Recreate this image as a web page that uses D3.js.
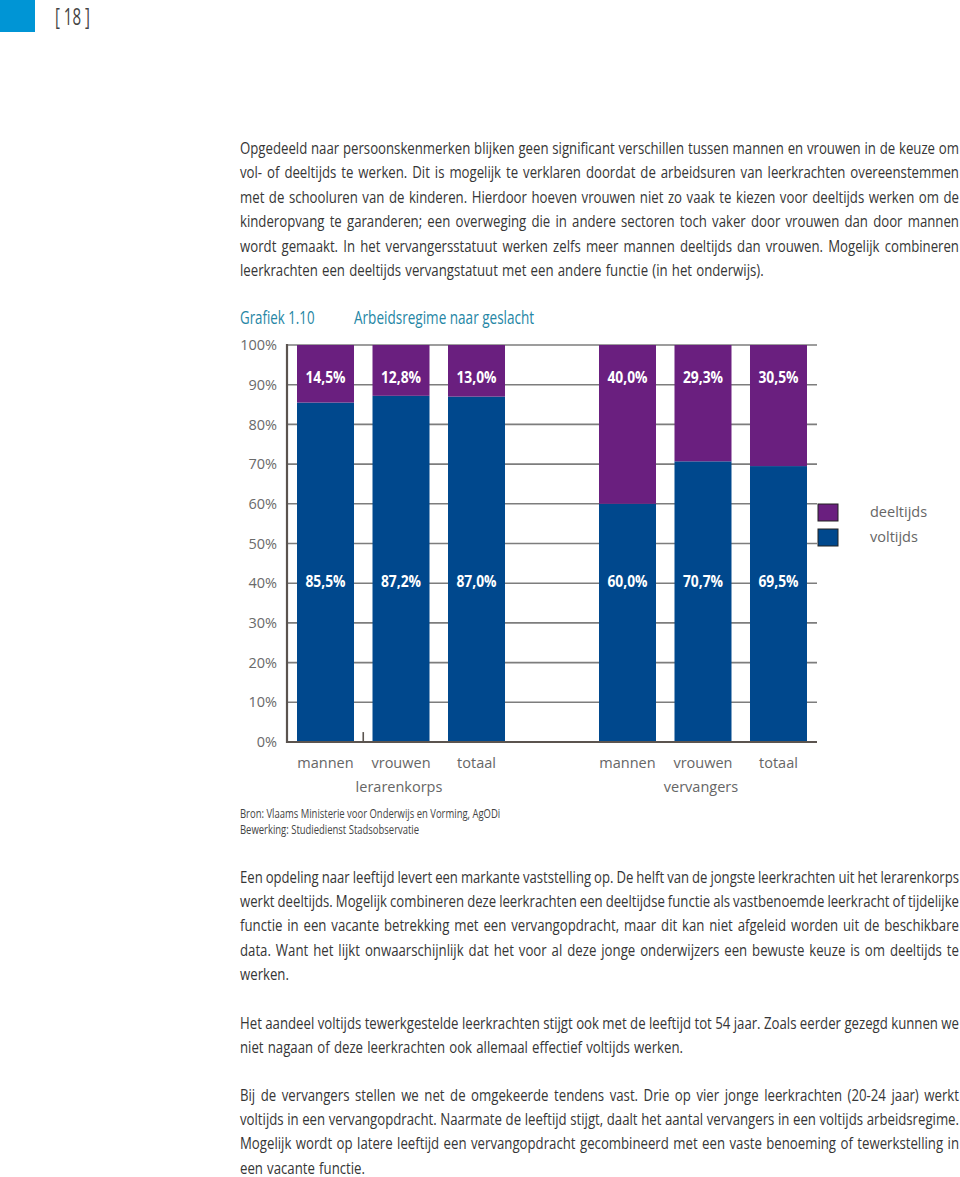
<!DOCTYPE html>
<html>
<head>
<meta charset="utf-8">
<script src="https://cdn.jsdelivr.net/npm/d3@7"></script>
<style>
  html, body { margin: 0; padding: 0; background: #fff; }
  svg { display: block; }
  .cond { font-family: "Open Sans", "Noto Sans", sans-serif; }
  .reg { font-family: "Open Sans", "Noto Sans", sans-serif; }
</style>
</head>
<body>
<svg id="page" width="960" height="1177"></svg>
<script>
// ---------------- data ----------------
const groups = ["lerarenkorps", "vervangers"];
const categories = ["mannen", "vrouwen", "totaal"];
const voltijds = [85.5, 87.2, 87.0, 60.0, 70.7, 69.5];
const deeltijds = [14.5, 12.8, 13.0, 40.0, 29.3, 30.5];
const yTicks = [0, 10, 20, 30, 40, 50, 60, 70, 80, 90, 100];
const seriesNames = ["deeltijds", "voltijds"];

const paragraph1 = [
  "Opgedeeld naar persoonskenmerken blijken geen significant verschillen tussen mannen en vrouwen in de keuze om",
  "vol- of deeltijds te werken. Dit is mogelijk te verklaren doordat de arbeidsuren van leerkrachten overeenstemmen",
  "met de schooluren van de kinderen. Hierdoor hoeven vrouwen niet zo vaak te kiezen voor deeltijds werken om de",
  "kinderopvang te garanderen; een overweging die in andere sectoren toch vaker door vrouwen dan door mannen",
  "wordt gemaakt. In het vervangersstatuut werken zelfs meer mannen deeltijds dan vrouwen. Mogelijk combineren",
  "leerkrachten een deeltijds vervangstatuut met een andere functie (in het onderwijs)."
];
const paragraph2 = [
  "Een opdeling naar leeftijd levert een markante vaststelling op. De helft van de jongste leerkrachten uit het lerarenkorps",
  "werkt deeltijds. Mogelijk combineren deze leerkrachten een deeltijdse functie als vastbenoemde leerkracht of tijdelijke",
  "functie in een vacante betrekking met een vervangopdracht, maar dit kan niet afgeleid worden uit de beschikbare",
  "data. Want het lijkt onwaarschijnlijk dat het voor al deze jonge onderwijzers een bewuste keuze is om deeltijds te",
  "werken."
];
const paragraph3 = [
  "Het aandeel voltijds tewerkgestelde leerkrachten stijgt ook met de leeftijd tot 54 jaar. Zoals eerder gezegd kunnen we",
  "niet nagaan of deze leerkrachten ook allemaal effectief voltijds werken."
];
const paragraph4 = [
  "Bij de vervangers stellen we net de omgekeerde tendens vast. Drie op vier jonge leerkrachten (20-24 jaar) werkt",
  "voltijds in een vervangopdracht. Naarmate de leeftijd stijgt, daalt het aantal vervangers in een voltijds arbeidsregime.",
  "Mogelijk wordt op latere leeftijd een vervangopdracht gecombineerd met een vaste benoeming of tewerkstelling in",
  "een vacante functie."
];

// ---------------- page ----------------
const svg = d3.select("#page");
const textColor = "#363636";
const purple = "#6a1f7f";
const blue = "#00488d";
const axisColor = "#5b544f";
const gridColor = "#7d7d7d";

// horizontally condensed text helper
function condText(parent, x, y, s, size, txt, opts = {}) {
  const t = parent.append("text").attr("class", "cond")
    .attr("transform", `translate(${x},${y}) scale(${s},1)`)
    .attr("font-size", size).attr("fill", opts.fill || textColor)
    .text(txt);
  if (opts.anchor) t.attr("text-anchor", opts.anchor);
  if (opts.weight) t.attr("font-weight", opts.weight);
  return t;
}

// header
svg.append("rect").attr("x", 0).attr("y", 0).attr("width", 35).attr("height", 32).attr("fill", "#0095d5");
condText(svg, 55, 25, 0.64, 23.5, "[ 18 ]", { fill: "#444" });

function justifiedBlock(lines, top, lineH, x0, width, size, baseS) {
  lines.forEach((line, i) => {
    const y = top + i * lineH;
    const last = i === lines.length - 1;
    const words = line.split(" ");
    const t = svg.append("text").attr("class", "cond")
      .attr("font-size", size).attr("fill", textColor);
    const spans = words.map(w => t.append("tspan").text(w));
    const widths = spans.map(s => s.node().getComputedTextLength());
    const total = d3.sum(widths);
    const minGap = 3;
    let s = baseS;
    if (total * s + minGap * (words.length - 1) > width) s = (width - minGap * (words.length - 1)) / total;
    let gap = 4.2;
    if (!last && words.length > 1) gap = (width - total * s) / (words.length - 1);
    t.attr("transform", `translate(${x0},${y}) scale(${s},1)`);
    let x = 0;
    spans.forEach((sp, k) => { sp.attr("x", x / s); x += widths[k] * s + gap; });
  });
}

const textX = 240, textW = 719, fs = 16.5;
justifiedBlock(paragraph1, 154, 24.4, textX, textW, fs, 0.8);
justifiedBlock(paragraph2, 883, 24.2, textX, textW, fs, 0.8);
justifiedBlock(paragraph3, 1029, 24.2, textX, textW, fs, 0.8);
justifiedBlock(paragraph4, 1101, 24.2, textX, textW, fs, 0.8);

// titles
const teal = "#2586a5";
condText(svg, 240, 324, 0.76, 17.5, "Grafiek 1.10", { fill: teal });
condText(svg, 354, 324, 0.775, 17.5, "Arbeidsregime naar geslacht", { fill: teal });

// ---------------- chart ----------------
const keys = [];
groups.forEach((g, gi) => {
  categories.forEach(c => keys.push(g + "|" + c));
  if (gi < groups.length - 1) keys.push("gap" + gi);
});
const bars = [];
groups.forEach((g, gi) => categories.forEach((c, ci) => {
  const i = gi * categories.length + ci;
  bars.push({ key: g + "|" + c, group: g, cat: c, voltijds: voltijds[i], deeltijds: deeltijds[i] });
}));

const x = d3.scaleBand().domain(keys).range([287, 817]).paddingInner(0.245).paddingOuter(0.1325);
const y = d3.scaleLinear().domain([0, 100]).range([742, 345]);

const chart = svg.append("g");

// gridlines
chart.append("g").selectAll("line").data(yTicks.filter(d => d > 0)).join("line")
  .attr("x1", 287).attr("x2", 817)
  .attr("y1", d => y(d)).attr("y2", d => y(d))
  .attr("stroke", gridColor).attr("stroke-width", 1.6);

// stacked bars
const stack = d3.stack().keys(["voltijds", "deeltijds"]);
const layers = stack(bars);
const colors = { voltijds: blue, deeltijds: purple };
chart.append("g").selectAll("g").data(layers).join("g")
  .attr("fill", d => colors[d.key])
  .selectAll("rect").data(d => d).join("rect")
  .attr("x", d => x(d.data.key))
  .attr("width", x.bandwidth())
  .attr("y", d => y(d[1]))
  .attr("height", d => y(d[0]) - y(d[1]));

// axes
const yAxis = d3.axisLeft(y).tickValues(yTicks).tickSize(0).tickPadding(10).tickFormat(d => d + "%");
const ya = chart.append("g").attr("transform", "translate(287,0)").call(yAxis);
ya.select(".domain").remove();
ya.selectAll("text").attr("class", "reg").attr("font-size", 14.5).attr("fill", "#6a6a6a");
chart.append("line").attr("x1", 287).attr("x2", 287).attr("y1", 344).attr("y2", 743)
  .attr("stroke", axisColor).attr("stroke-width", 2.2);
chart.append("line").attr("x1", 286).attr("x2", 817).attr("y1", 742).attr("y2", 742)
  .attr("stroke", axisColor).attr("stroke-width", 2.2);
// small stray tick between first two bars
chart.append("line")
  .attr("x1", (x(keys[0]) + x.bandwidth() + x(keys[1])) / 2)
  .attr("x2", (x(keys[0]) + x.bandwidth() + x(keys[1])) / 2)
  .attr("y1", y(2.5)).attr("y2", y(0))
  .attr("stroke", axisColor).attr("stroke-width", 1.6);

// value labels
const fmt = v => d3.format(".1f")(v).replace(".", ",") + "%";
bars.forEach(d => {
  const cx = x(d.key) + x.bandwidth() / 2;
  condText(chart, cx, y(90.5), 0.84, 16.5, fmt(d.deeltijds), { fill: "#fff", anchor: "middle", weight: "bold" });
  condText(chart, cx, y(39.0), 0.84, 16.5, fmt(d.voltijds), { fill: "#fff", anchor: "middle", weight: "bold" });
});

// category labels
chart.append("g").selectAll("text").data(bars).join("text")
  .attr("class", "reg").attr("font-size", 14.5).attr("fill", "#666")
  .attr("text-anchor", "middle")
  .attr("x", d => x(d.key) + x.bandwidth() / 2)
  .attr("y", 768)
  .text(d => d.cat);
chart.append("g").selectAll("text").data(groups).join("text")
  .attr("class", "reg").attr("font-size", 14.5).attr("fill", "#666")
  .attr("text-anchor", "middle")
  .attr("x", g => x(g + "|" + categories[1]) + x.bandwidth() / 2 - 2)
  .attr("y", 792)
  .text(g => g);

// legend
const legend = svg.append("g").attr("transform", "translate(818,504)");
seriesNames.forEach((s, i) => {
  legend.append("rect").attr("x", 0).attr("y", i * 25).attr("width", 20).attr("height", 17)
    .attr("fill", colors[s]).attr("stroke", "#222").attr("stroke-width", 1);
  legend.append("text").attr("class", "reg").attr("x", 52).attr("y", i * 25 + 13)
    .attr("font-size", 14.5).attr("fill", "#666").text(s);
});

// source
condText(svg, 240, 818, 0.79, 12, "Bron: Vlaams Ministerie voor Onderwijs en Vorming, AgODi", { fill: "#444" });
condText(svg, 240, 834, 0.79, 12, "Bewerking: Studiedienst Stadsobservatie", { fill: "#444" });
</script>
</body>
</html>
